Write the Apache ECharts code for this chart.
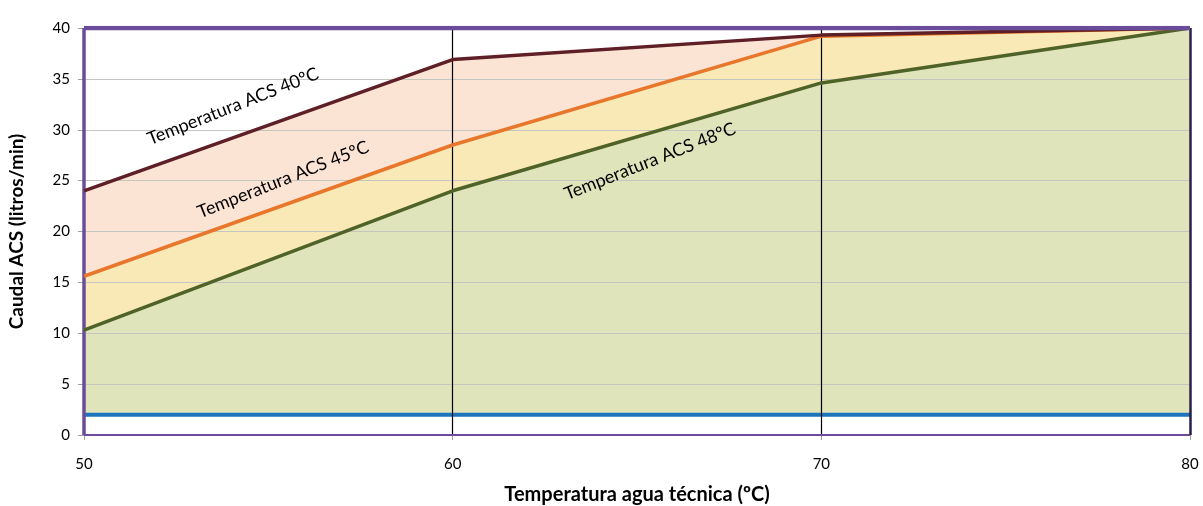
<!DOCTYPE html>
<html>
<head>
<meta charset="utf-8">
<script src="https://cdn.jsdelivr.net/npm/echarts@6/dist/echarts.min.js"></script>
<style>html,body{margin:0;padding:0;background:#fff}#c{width:1203px;height:506px}</style>
</head>
<body>
<div id="c"></div>
<script>
// ---- data ----
const tempAguaTecnica = ['50', '60', '70', '80'];
const caudalACS40 = [24.0, 36.9, 39.3, 40.0];
const caudalACS45 = [15.6, 28.5, 39.2, 40.0];
const caudalACS48 = [10.3, 24.0, 34.6, 40.0];
const caudalMinimo = [2.0, 2.0, 2.0, 2.0];
const caudalMaximo = [40, 40, 40, 40];
const yTicks = [0, 5, 10, 15, 20, 25, 30, 35, 40];
const seriesNames = ['Temperatura ACS 40ºC', 'Temperatura ACS 45ºC', 'Temperatura ACS 48ºC'];

const diff = (a, b) => a.map((v, i) => +(v - b[i]).toFixed(3));

const chart = echarts.init(document.getElementById('c'));
const FONT = 'Lato';
const gridLineData = yTicks.filter(v => v > 0 && v < 40).map(v => ({ yAxis: v }));

const option = {
  animation: false,
  grid: { left: 84, right: 13, top: 28, bottom: 71, containLabel: false, outerBoundsMode: 'none' },
  xAxis: {
    type: 'category', data: tempAguaTecnica, boundaryGap: false,
    name: 'Temperatura agua técnica (ºC)', nameLocation: 'middle', nameGap: 50,
    nameTextStyle: { fontFamily: FONT, fontWeight: 'bold', fontSize: 20, color: '#000' },
    axisLine: { show: true, lineStyle: { color: '#a0a0a0', width: 1 } },
    axisTick: { show: true, length: 5, alignWithLabel: true, lineStyle: { color: '#a0a0a0' } },
    axisLabel: { fontFamily: FONT, fontSize: 15, color: '#000', margin: 22, showMaxLabel: true, showMinLabel: true },
    splitLine: { show: false }
  },
  yAxis: {
    type: 'value', min: 0, max: 40, interval: 5,
    name: 'Caudal ACS (litros/min)', nameLocation: 'middle', nameGap: 58,
    nameTextStyle: { fontFamily: FONT, fontWeight: 'bold', fontSize: 19, color: '#000' },
    axisLine: { show: true, lineStyle: { color: '#a0a0a0', width: 1 } },
    axisTick: { show: true, length: 6, lineStyle: { color: '#a0a0a0' } },
    axisLabel: { fontFamily: FONT, fontSize: 15, color: '#000', margin: 14 },
    splitLine: { show: false }
  },
  series: [
    { name: 'base', type: 'line', stack: 'f', data: caudalMinimo, symbol: 'none', lineStyle: { width: 0 }, z: 1, silent: true },
    { name: 'fill48', type: 'line', stack: 'f', data: diff(caudalACS48, caudalMinimo), symbol: 'none', lineStyle: { width: 0 }, areaStyle: { color: '#E0E4BB', opacity: 1 }, z: 1, silent: true },
    { name: 'fill45', type: 'line', stack: 'f', data: diff(caudalACS45, caudalACS48), symbol: 'none', lineStyle: { width: 0 }, areaStyle: { color: '#F9E9B7', opacity: 1 }, z: 1, silent: true },
    { name: 'fill40', type: 'line', stack: 'f', data: diff(caudalACS40, caudalACS45), symbol: 'none', lineStyle: { width: 0 }, areaStyle: { color: '#FCE4D5', opacity: 1 }, z: 1, silent: true },
    { name: 'grid', type: 'line', data: [], z: 2, silent: true,
      markLine: { silent: true, symbol: 'none', label: { show: false },
        lineStyle: { color: '#c6c6c0', width: 1.2, type: 'solid' }, data: gridLineData } },
    { name: 'verticals', type: 'line', data: [], z: 3, silent: true,
      markLine: { silent: true, symbol: 'none', label: { show: false },
        lineStyle: { color: '#000', width: 1.2, type: 'solid' },
        data: [{ xAxis: 1 }, { xAxis: 2 }] } },
    { name: 'min', type: 'line', data: caudalMinimo, symbol: 'none', lineStyle: { color: '#1C75BC', width: 4 }, z: 4 },
    { name: seriesNames[2], type: 'line', data: caudalACS48, symbol: 'none', lineStyle: { color: '#4F6228', width: 3.5 }, z: 5 },
    { name: seriesNames[1], type: 'line', data: caudalACS45, symbol: 'none', lineStyle: { color: '#E8762B', width: 3.5 }, z: 6 },
    { name: seriesNames[0], type: 'line', data: caudalACS40, symbol: 'none', lineStyle: { color: '#5E1F26', width: 3.5 }, z: 7 },
    { name: 'max', type: 'line', data: caudalMaximo, symbol: 'none', lineStyle: { color: '#6B4C9A', width: 4.5 }, z: 8,
      markLine: { silent: true, symbol: 'none', label: { show: false }, data: [
        { xAxis: 0, lineStyle: { color: '#6B4C9A', width: 3.5, type: 'solid' } },
        { yAxis: 0, lineStyle: { color: '#6B4C9A', width: 2, type: 'solid' } },
        { xAxis: 3, lineStyle: { color: '#2a1f4a', width: 2.5, type: 'solid' } }
      ] } }
  ]
};
chart.setOption(option);

// annotations anchored at axis coordinates (fraction of category step, y value)
const annotations = [
  { text: seriesNames[0], at: [0.404, 32.3], angle: 21.5 },
  { text: seriesNames[1], at: [0.54, 25.1], angle: 21.5 },
  { text: seriesNames[2], at: [1.535, 26.9], angle: 21.5 }
];
const xPix = (f) => {
  const p0 = chart.convertToPixel({ gridIndex: 0 }, [0, 0]);
  const p1 = chart.convertToPixel({ gridIndex: 0 }, [1, 0]);
  return p0[0] + (p1[0] - p0[0]) * f;
};
chart.setOption({
  graphic: annotations.map(a => {
    const py = chart.convertToPixel({ yAxisIndex: 0 }, a.at[1]);
    return {
      type: 'text', x: xPix(a.at[0]), y: py, rotation: a.angle * Math.PI / 180, z: 100,
      style: { text: a.text, fill: '#000', font: '18px ' + FONT, textAlign: 'center', textVerticalAlign: 'middle' }
    };
  })
});
</script>
</body>
</html>
